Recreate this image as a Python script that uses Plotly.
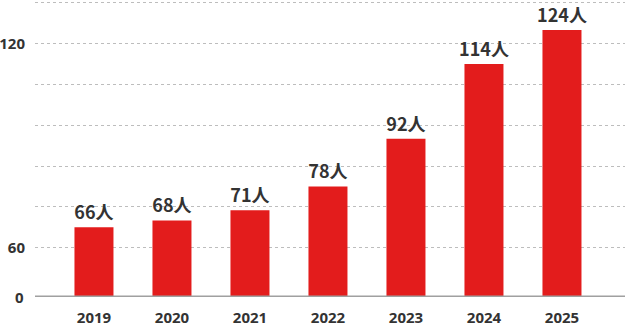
import plotly.graph_objects as go

years = ["2019", "2020", "2021", "2022", "2023", "2024", "2025"]
counts = [66, 68, 71, 78, 92, 114, 124]
labels = [f"{v}人" for v in counts]
grid_vals = [60, 72, 84, 96, 108, 120, 132]
grid_text = ["60", "", "", "", "", "120", ""]
axis_floor = 45.5  # broken axis: shown as "0"

fig = go.Figure()
fig.add_trace(go.Bar(
    x=years, y=counts, text=labels, textposition="outside",
    marker=dict(color="#e31c1c", line=dict(width=0)),
    width=0.5, cliponaxis=False, constraintext="none",
    textfont=dict(family="Noto Sans CJK JP", size=18, color="#333333", weight=700),
))

fig.update_layout(
    width=627, height=333,
    margin=dict(l=35, r=2, t=0, b=36),
    plot_bgcolor="white", paper_bgcolor="white",
    showlegend=False,
    xaxis=dict(
        type="category", range=[-0.756, 6.808],
        showgrid=False, showline=False, zeroline=False,
        tickfont=dict(family="Open Sans", size=15, color="#333333", weight=700),
        ticks="", ticklabelstandoff=10,
    ),
    yaxis=dict(
        range=[axis_floor, 132.8],
        tickvals=grid_vals, ticktext=grid_text,
        showgrid=True, gridcolor="#bdbdbd", gridwidth=1, griddash="3px,3px",
        zeroline=False, showline=False, ticks="", ticklabelstandoff=9,
        tickfont=dict(family="Open Sans", size=15, color="#333333", weight=700),
    ),
)

fig.add_shape(type="line", xref="paper", yref="y", x0=0, x1=1,
              y0=axis_floor, y1=axis_floor,
              line=dict(color="#a0a0a0", width=3))
fig.add_annotation(xref="paper", yref="y", x=0, y=axis_floor, text="0",
                   showarrow=False, xanchor="right", xshift=-9,
                   font=dict(family="Open Sans", size=15, color="#333333", weight=700))

fig.write_html("out.html")
